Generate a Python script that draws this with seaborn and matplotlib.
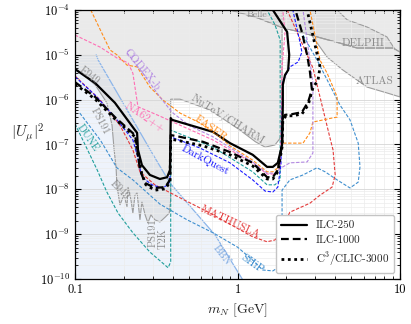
import numpy as np
import matplotlib
matplotlib.use("Agg")
import matplotlib.pyplot as plt
import seaborn as sns
from matplotlib.ticker import FixedLocator, FuncFormatter, LogLocator, NullFormatter

# masses in GeV, couplings given as log10 |U_mu|^2

# ILC projections
ilc250_m = [0.100, 0.133, 0.176, 0.234, 0.241, 0.244, 0.258, 0.289, 0.333, 0.369, 0.384, 0.388, 0.395,
            0.707, 0.899, 1.24, 1.52, 1.65, 1.77, 1.88, 1.90, 1.90, 1.96, 2.05, 2.08, 2.02, 1.65]
ilc250_lg = [-5.32, -5.63, -6.07, -6.68, -6.74, -7.12, -7.46, -7.68, -7.77, -7.73, -7.57, -6.41, -6.45,
             -6.72, -6.97, -7.23, -7.50, -7.50, -7.41, -7.01, -6.12, -5.67, -5.45, -5.34, -5.00, -4.49, -4.00]

ilc1000_m = [0.100, 0.133, 0.176, 0.234, 0.241, 0.251, 0.270, 0.310, 0.359, 0.384, 0.388, 0.443, 0.613,
             0.899, 1.24, 1.52, 1.65, 1.77, 1.88, 1.90, 1.96, 2.19, 2.49, 2.72, 2.87, 2.79, 2.68, 2.49, 2.27]
ilc1000_lg = [-5.61, -5.94, -6.39, -6.79, -7.06, -7.57, -7.86, -7.97, -7.95, -7.79, -6.79, -6.83, -6.94,
              -7.17, -7.41, -7.73, -7.73, -7.57, -7.01, -6.41, -6.34, -6.32, -6.28, -6.05, -5.78, -5.38,
              -5.00, -4.49, -4.00]

clic_m = [0.100, 0.133, 0.176, 0.234, 0.241, 0.257, 0.273, 0.310, 0.359, 0.384, 0.388, 0.443, 0.613,
          0.899, 1.24, 1.52, 1.65, 1.77, 1.88, 1.90, 1.99, 2.19, 2.49, 2.72, 2.91, 3.13, 3.22, 2.68]
clic_lg = [-5.65, -5.99, -6.43, -6.83, -7.12, -7.64, -7.90, -8.02, -7.99, -7.84, -6.88, -6.92, -7.03,
           -7.23, -7.48, -7.77, -7.77, -7.61, -7.06, -6.45, -6.36, -6.36, -6.32, -6.12, -5.74, -5.56,
           -5.27, -4.00]

# other future experiments
darkquest_m = [0.100, 0.133, 0.176, 0.227, 0.241, 0.258, 0.298, 0.343, 0.374, 0.384, 0.388, 0.588, 0.899,
               1.24, 1.48, 1.65, 1.77, 1.85, 1.90, 2.02, 2.10, 2.36, 2.49, 2.42, 2.19]
darkquest_lg = [-5.49, -5.90, -6.39, -6.90, -7.23, -7.73, -7.90, -7.97, -7.90, -7.79, -6.83, -7.08, -7.41,
                -7.79, -8.04, -8.06, -7.95, -7.46, -5.61, -5.38, -5.27, -5.16, -4.94, -4.71, -4.00]

mathusla_m = [0.100, 0.143, 0.189, 0.227, 0.251, 0.310, 0.443, 0.677, 1.24, 1.52, 1.70, 1.83, 2.10, 2.79,
              3.22, 3.82, 3.99, 3.87, 3.71, 2.91, 2.02]
mathusla_lg = [-5.47, -6.01, -6.57, -7.12, -7.61, -7.90, -8.19, -8.53, -9.06, -9.17, -9.13, -8.95, -8.51,
               -8.31, -8.13, -7.95, -7.68, -7.12, -6.86, -5.29, -4.00]

faser_m = [0.125, 0.164, 0.181, 0.209, 0.241, 0.289, 0.348, 0.443, 0.588, 0.707, 0.899, 1.24, 1.52, 1.65,
           1.77, 1.88, 2.53, 2.79, 2.91, 3.82, 4.10, 4.10, 3.87, 3.56, 3.22, 2.79]
faser_lg = [-4.00, -4.89, -5.00, -5.23, -5.27, -5.72, -6.01, -6.30, -6.52, -6.70, -7.03, -7.35, -7.61, -7.61,
            -7.52, -6.97, -6.97, -6.74, -6.50, -6.41, -6.39, -5.94, -5.72, -5.41, -5.12, -4.00]

na62_m = [0.100, 0.143, 0.181, 0.212, 0.227, 0.244, 0.320, 0.443, 0.707, 1.24, 1.52, 1.70, 1.83, 1.85,
          1.88, 1.96, 1.90]
na62_lg = [-4.56, -4.83, -5.07, -5.18, -5.41, -6.16, -6.34, -6.57, -6.90, -7.41, -7.66, -7.66, -7.52, -6.90,
           -5.27, -4.51, -4.00]

codexb_m = [0.209, 0.258, 0.333, 0.395, 0.510, 0.707, 1.24, 1.52, 1.70, 1.90, 2.10, 2.68, 2.91, 2.91, 2.53]
codexb_lg = [-4.96, -5.38, -5.94, -6.28, -6.59, -6.83, -7.39, -7.64, -7.64, -7.50, -7.41, -7.39, -7.19,
             -5.63, -4.00]

dune_m = [0.100, 0.118, 0.137, 0.157, 0.184, 0.227, 0.289, 0.374, 0.388, 0.388, 0.707, 1.24, 1.52, 1.70,
          1.83, 1.83, 1.70, 1.52]
dune_lg = [-6.54, -7.08, -7.57, -8.06, -8.53, -8.97, -9.40, -9.75, -9.62, -6.68, -7.06, -7.61, -7.90, -7.90,
           -7.79, -4.67, -4.33, -4.00]

ship_m = [0.107, 0.143, 0.181, 0.227, 0.333, 0.489, 0.707, 1.00, 1.24, 1.43, 1.65, 1.77, 1.88, 1.88, 2.10,
          2.53, 3.08, 3.46, 4.10, 4.92, 5.53, 5.67, 5.53, 4.92, 4.27, 3.13, 2.53]
ship_lg = [-6.30, -6.90, -7.52, -7.79, -8.33, -8.68, -8.97, -9.29, -9.58, -9.80, -9.82, -9.75, -9.69, -8.02,
           -7.79, -7.68, -7.52, -7.61, -7.79, -7.97, -7.84, -7.50, -6.97, -6.45, -6.12, -5.16, -4.56]

# existing bounds
bbn_m = [0.100, 0.135, 0.139, 0.298, 0.384, 0.728, 1.069, 0.100]
bbn_lg = [-5.00, -5.00, -5.12, -7.19, -7.86, -9.02, -10.0, -10.0]

lowmass_m = [0.100, 0.100, 0.133, 0.157, 0.169, 0.174, 0.179, 0.181, 0.189, 0.200, 0.209, 0.212, 0.221,
             0.227, 0.234, 0.241, 0.251, 0.258, 0.270, 0.281, 0.293, 0.310, 0.333, 0.359, 0.380, 0.388,
             0.388, 0.443, 0.677, 1.036, 1.29, 1.48, 1.70, 1.83, 1.88, 1.88]
lowmass_lg = [-4.00, -5.29, -5.67, -6.07, -6.57, -7.12, -7.52, -7.90, -8.35, -8.13, -8.39, -7.95, -8.24,
              -8.53, -8.13, -8.08, -8.68, -8.28, -8.57, -8.75, -8.57, -8.68, -8.73, -8.62, -8.53, -8.24,
              -5.99, -5.99, -6.23, -6.68, -6.94, -7.06, -7.01, -6.86, -6.45, -4.00]

delphi_m = [0.899, 1.34, 1.90, 2.42, 3.08, 4.27, 5.45, 9.07, 10.0, 10.0]
delphi_lg = [-4.00, -4.18, -4.40, -4.49, -4.60, -4.74, -4.85, -4.85, -4.94, -4.00]

belle_m = [0.899, 4.10, 4.73, 6.27, 8.30, 9.35, 9.07, 5.45, 4.27, 3.08, 2.42, 1.90, 1.34]
belle_lg = [-4.00, -4.00, -4.22, -4.38, -4.60, -4.89, -4.85, -4.85, -4.74, -4.60, -4.49, -4.40, -4.18]

atlas_m = [2.79, 3.56, 4.45, 6.27, 8.30, 10.0, 10.0, 9.07, 5.45, 4.27, 3.08]
atlas_lg = [-4.51, -5.05, -5.34, -5.72, -5.85, -5.94, -4.94, -4.85, -4.85, -4.74, -4.60]

legend_labels = ["ILC-250", "ILC-1000", r"C$^3$/CLIC-3000"]


def curve(ax, m, lg, color, ls, lw, label=None, z=2):
    sns.lineplot(x=m, y=10.0 ** np.array(lg), sort=False, estimator=None, color=color,
                 linestyle=ls, lw=lw, label=label, ax=ax, zorder=z)


def region(ax, m, lg, z=0.3):
    ax.fill(m, 10.0 ** np.array(lg), facecolor=(0.84, 0.84, 0.84, 0.5),
            edgecolor="#9d9d9d", lw=0.8, zorder=z)


sns.set_theme(style="ticks")
plt.rcParams.update({
    "font.family": "serif",
    "font.serif": ["cmr10"],
    "mathtext.fontset": "cm",
    "axes.unicode_minus": False,
    "axes.formatter.use_mathtext": True,
})

fig = plt.figure(figsize=(4.11, 3.24), dpi=100)
ax = fig.add_axes([0.1825, 0.139, 0.7908, 0.8302])
ax.set_xscale("log")
ax.set_yscale("log")

# excluded regions
ax.fill(bbn_m, 10.0 ** np.array(bbn_lg), facecolor="#eef3fb", edgecolor="none", zorder=0.2)
ax.plot(bbn_m[1:7], 10.0 ** np.array(bbn_lg[1:7]), color="#8db6ea", lw=0.9, zorder=0.4)
region(ax, lowmass_m, lowmass_lg)
region(ax, delphi_m, delphi_lg)
region(ax, belle_m, belle_lg)
region(ax, atlas_m, atlas_lg)

dash = (0, (3, 1.5))
curve(ax, ship_m, ship_lg, "#3f8fcf", dash, 0.8)
curve(ax, dune_m, dune_lg, "#1f9e9b", dash, 0.8)
curve(ax, mathusla_m, mathusla_lg, "#e33a3a", dash, 0.8)
curve(ax, faser_m, faser_lg, "#ff8c1a", dash, 0.8)
curve(ax, na62_m, na62_lg, "#ff6eb4", dash, 0.8)
curve(ax, codexb_m, codexb_lg, "#b388e3", dash, 0.8)
curve(ax, darkquest_m, darkquest_lg, "#1a1aff", dash, 0.8)

curve(ax, ilc250_m, ilc250_lg, "black", "-", 1.6, legend_labels[0], z=4)
curve(ax, ilc1000_m, ilc1000_lg, "black", (0, (3.5, 1.8)), 1.6, legend_labels[1], z=4)
curve(ax, clic_m, clic_lg, "black", (0, (1, 1.3)), 2.0, legend_labels[2], z=4)

# labels
gray = "#8a8a8a"
notes = [
    ("Belle", 1.32, -4.11, 0, gray, 7),
    ("DELPHI", 5.92, -4.74, 0, gray, 8),
    ("ATLAS", 6.92, -5.58, 0, gray, 8),
    ("NuTeV/CHARM", 0.861, -6.45, -32, gray, 8),
    ("E949", 0.122, -5.47, -38, gray, 7.5),
    ("PS191", 0.143, -6.48, -62, gray, 7.5),
    ("E949", 0.189, -8.02, -45, gray, 7.5),
    ("PS191", 0.302, -8.97, 90, gray, 7.5),
    ("T2K", 0.348, -9.09, 90, gray, 7.5),
    ("BBN", 0.803, -9.46, -52, "#7aa7e0", 7.5),
    ("SHiP", 1.23, -9.67, -35, "#3f8fcf", 8),
    ("MATHUSLA", 0.899, -8.73, -25, "#e33a3a", 8),
    ("DarkQuest", 0.632, -7.35, -28, "#1a1aff", 8),
    ("FASER", 0.687, -6.65, -35, "#ff8c1a", 8),
    ("CODEX-b", 0.258, -5.34, -50, "#b388e3", 8),
    ("NA62++", 0.270, -6.39, -34, "#ff6eb4", 8),
    ("DUNE", 0.120, -6.86, -55, "#1f9e9b", 7.5),
]
for txt, xm, ylg, rot, col, fs in notes:
    ax.text(xm, 10.0 ** ylg, txt, rotation=rot, color=col, fontsize=fs,
            ha="center", va="center", zorder=5, rotation_mode="anchor")

ax.set_xlim(0.1, 10)
ax.set_ylim(1e-10, 1e-4)

ax.xaxis.set_major_locator(FixedLocator([0.1, 1, 10]))
ax.xaxis.set_major_formatter(FuncFormatter(lambda v, _: f"{v:g}"))
ax.xaxis.set_minor_locator(LogLocator(base=10, subs=np.arange(2, 10), numticks=20))
ax.xaxis.set_minor_formatter(NullFormatter())
ax.yaxis.set_major_locator(LogLocator(base=10, numticks=12))
ax.yaxis.set_major_formatter(FuncFormatter(lambda v, _: r"$10^{%d}$" % round(np.log10(v))))
ax.yaxis.set_minor_locator(LogLocator(base=10, subs=np.arange(2, 10), numticks=20))
ax.yaxis.set_minor_formatter(NullFormatter())
ax.xaxis.get_offset_text().set_visible(False)
ax.yaxis.get_offset_text().set_visible(False)

ax.tick_params(which="both", direction="in", top=True, right=True, colors="black", labelsize=9)
ax.tick_params(which="major", length=4, width=0.8)
ax.tick_params(which="minor", length=2, width=0.6)
ax.grid(which="major", color="#d6d6d6", lw=0.6)
ax.grid(which="minor", color="#ececec", lw=0.5)
for s in ax.spines.values():
    s.set_color("black")
    s.set_linewidth(0.9)

ax.set_xlabel(r"$m_N$ [GeV]", fontsize=10)
ax.set_ylabel(r"$|U_\mu|^2$", fontsize=11, rotation=0)
ax.yaxis.set_label_coords(-0.145, 0.5)

ax.legend(loc="lower right", fontsize=8, handlelength=2.3, labelspacing=0.45, borderpad=0.5,
          frameon=True, fancybox=True, edgecolor="#c4c4c4", framealpha=1)

fig.savefig("out.png", dpi=100)
